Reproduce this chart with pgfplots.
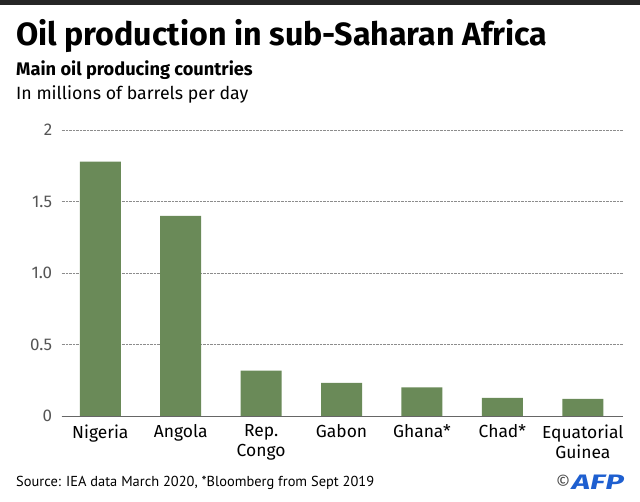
\documentclass[border=0pt]{standalone}
\usepackage{pgfplots}
\pgfplotsset{compat=1.18}
\usepackage{fontspec}
\setmainfont{Fira Sans}
\newfontfamily\ptsans{PT Sans}
\definecolor{barc}{HTML}{6A8A58}
\definecolor{tickc}{HTML}{555555}
\definecolor{afpblue}{HTML}{1E5FD0}
\begin{document}
\begin{tikzpicture}[x=1bp,y=1bp]
\useasboundingbox (0,0) rectangle (640,502);
\fill[black!85] (0,497) rectangle (640,502);
\node[anchor=base west, inner sep=0, font=\fontsize{32.3}{36}\selectfont\bfseries] at (16,456.3) {Oil production in sub-Saharan Africa};
\node[anchor=base west, inner sep=0, font=\fontsize{18.3}{20}\selectfont\bfseries] at (16,426) {Main oil producing countries};
\node[anchor=base west, inner sep=0, font=\fontsize{17.8}{20}\selectfont] at (16,402) {In millions of barrels per day};
\begin{axis}[
  at={(61.7bp,86bp)}, anchor=south west, scale only axis,
  width=561.3bp, height=286bp,
  xmin=-0.48, xmax=6.5, ymin=0, ymax=2,
  axis x line=bottom, axis y line=left,
  y axis line style={draw=none},
  x axis line style={draw=black!60, line width=0.8pt, -},
  major tick length=0pt,
  ymajorgrids, grid style={densely dotted, black!45, line width=0.6pt},
  xtick={0,1,2,3,4,5,6},
  xticklabels={Nigeria, Angola, {Rep.\\Congo}, Gabon, Ghana*, Chad*, {Equatorial\\Guinea}},
  xticklabel style={align=center, font=\fontsize{17.5}{20}\selectfont, text=black, anchor=north, yshift=-5bp},
  ytick={0,0.5,1,1.5,2},
  yticklabels={0,0.5,1.0,1.5,2},
  yticklabel style={font=\fontsize{17}{20}\selectfont, text=tickc, xshift=-6bp},
  /pgf/number format/assume math mode=true,
  ybar, bar width=41bp,
]
\addplot[fill=barc, draw=none, bar shift=0pt] coordinates {(0,1.778) (1,1.40) (2,0.317) (3,0.231) (4,0.20) (5,0.126) (6,0.119)};
\end{axis}
\node[anchor=base west, inner sep=0, font=\ptsans\fontsize{14.5}{18}\selectfont] at (16,15.3) {Source: IEA data March 2020, *Bloomberg from Sept 2019};
\node[anchor=base east, inner sep=0] at (624,12.5) {{\color{black!70}\fontsize{18}{18}\selectfont\raisebox{0.5bp}{©}}\,{\color{afpblue}\scalebox{1.5}[1]{\fontsize{21}{22}\selectfont\bfseries\itshape AFP}}};
\end{tikzpicture}
\end{document}
